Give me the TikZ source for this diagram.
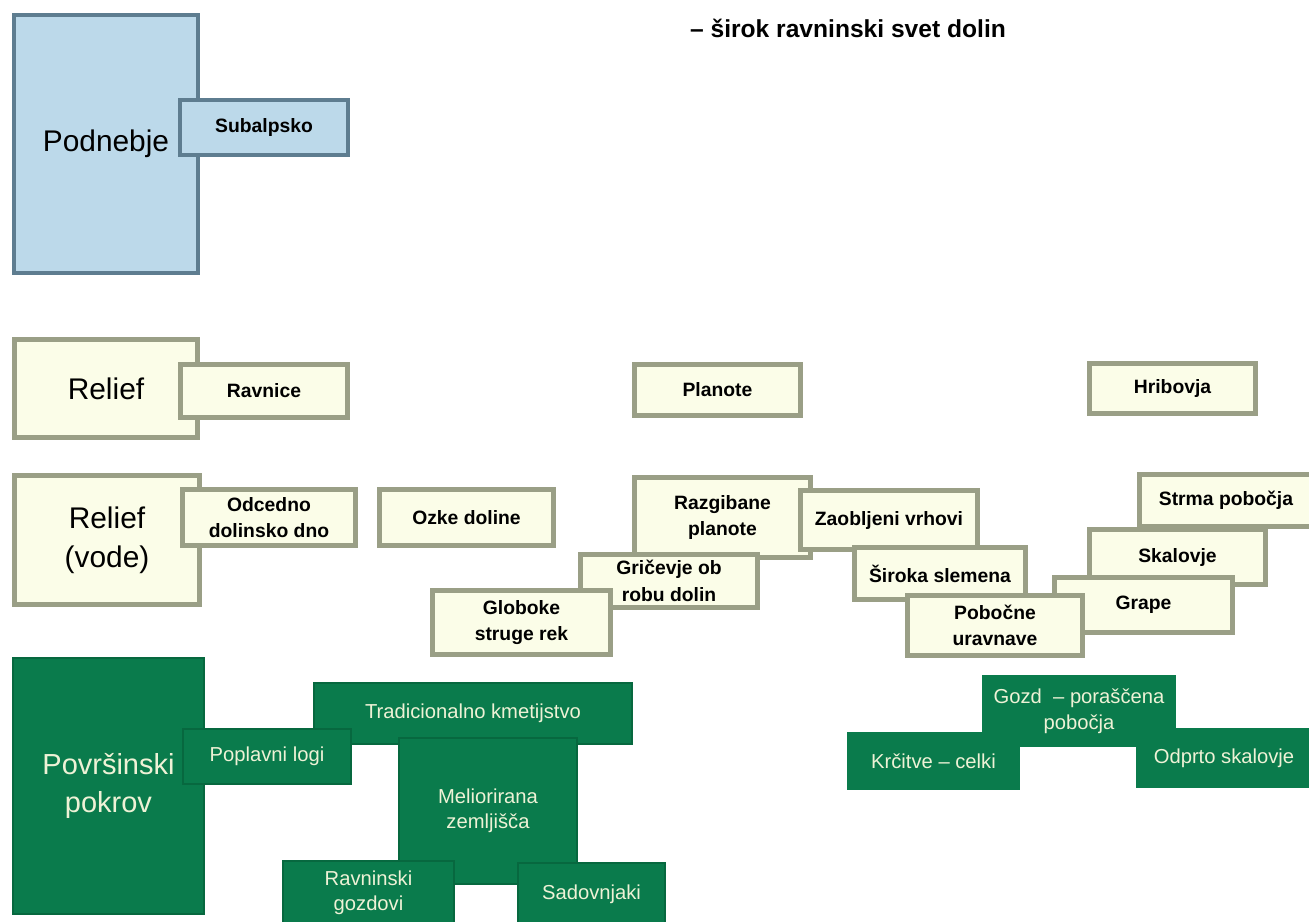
\documentclass[tikz,border=0pt]{standalone}
\usepackage{fontspec}
\setmainfont{Liberation Sans}

\definecolor{climfill}{HTML}{BCD9EA}
\definecolor{climline}{HTML}{5E7D90}
\definecolor{relfill}{HTML}{FBFDE8}
\definecolor{relline}{HTML}{9A9F86}
\definecolor{covfill}{HTML}{0A7B4C}
\definecolor{covline}{HTML}{07683F}
\definecolor{covtext}{HTML}{EEF2D6}

\begin{document}
\begin{tikzpicture}[
    x = 0.02cm, y = -0.02cm,
    every node/.style = {inner sep = 0pt, align = center},
    wh/.style 2 args = {minimum width = #1*0.02cm, minimum height = #2*0.02cm},
    climbox/.style = {draw = climline, fill = climfill, line width = 2.5pt},
    relbox/.style = {draw = relline, fill = relfill, line width = 2.8pt},
    covbox/.style = {draw = covline, fill = covfill, line width = 1pt,
      text = covtext},
    openbox/.style = {fill = covfill, text = covtext},
    smalltxt/.style = {font = \fontsize{11}{15}\selectfont\bfseries},
    bigtxt/.style = {font = \fontsize{17}{22}\selectfont},
    covtxt/.style = {font = \fontsize{11.5}{14.5}\selectfont},
    bigcov/.style = {font = \fontsize{16.5}{21.5}\selectfont}
  ]
  \useasboundingbox (0,0) rectangle (1309,921);

  \node [font = \fontsize{14}{17}\selectfont\bfseries] (title) at (848,28)
    {-- širok ravninski svet dolin};

  \node [climbox, wh = {184}{258}, bigtxt] (podnebje) at (106,144) {Podnebje};
  \node [climbox, wh = {168}{55}, smalltxt] (subalpsko) at (264,127.5) {Subalpsko};

  \node [relbox, wh = {183}{98}, bigtxt] (relief) at (106,388.5) {Relief};
  \node [relbox, wh = {167}{53}, smalltxt] (ravnice) at (264,391) {Ravnice};
  \node [relbox, wh = {166}{51}, smalltxt] (planote) at (717.5,390) {Planote};
  \node [relbox, wh = {166}{50}, smalltxt] (hribovja) at (1172.5,388.5) {Hribovja};

  \node [relbox, wh = {185}{129}, bigtxt] (reliefv) at (107,540) {Relief\\(vode)};
  \node [relbox, wh = {173}{56}, smalltxt] (odcedno) at (269,517.5)
    {Odcedno\\dolinsko dno};
  \node [relbox, wh = {174}{56}, smalltxt] (ozke) at (466.5,517.5) {Ozke doline};

  \node [relbox, wh = {173}{52}, smalltxt] (strma) at (1226,500.5) {Strma pobočja};
  \node [relbox, wh = {176}{55}, smalltxt] (skalovje) at (1177.5,557) {Skalovje};
  \node [relbox, wh = {178}{55}, smalltxt] (grape) at (1143.5,605) {Grape};
  \node [relbox, wh = {176}{80}, smalltxt] (razgibane) at (722.5,517.5)
    {Razgibane\\planote};
  \node [relbox, wh = {177}{59}, smalltxt] (zaobljeni) at (889,520)
    {Zaobljeni vrhovi};
  \node [relbox, wh = {171}{52}, smalltxt] (siroka) at (940,573.5) {Široka slemena};
  \node [relbox, wh = {175}{60}, smalltxt] (pobocne) at (995,625.5)
    {Pobočne\\uravnave};
  \node [relbox, wh = {177}{53}, smalltxt] (gricevje) at (669,581)
    {Gričevje ob\\robu dolin};
  \node [relbox, wh = {178}{64}, smalltxt] (globoke) at (521.5,622.5)
    {Globoke\\struge rek};

  \node [covbox, wh = {191}{256}, bigcov] (pokrov) at (108.5,786)
    {Površinski\\pokrov};
  \node [covbox, wh = {318}{61}, covtxt] (kmet) at (473,713.5)
    {Tradicionalno kmetijstvo};
  \node [covbox, wh = {168}{55}, covtxt] (logi) at (267,756.5) {Poplavni logi};
  \node [covbox, wh = {178}{146}, covtxt] (melior) at (488,811)
    {Meliorirana\\zemljišča};
  \node [covbox, wh = {171}{63}, covtxt] (rgozd) at (368.5,892.5)
    {Ravninski\\gozdovi};
  \node [covbox, wh = {147}{62}, covtxt] (sadov) at (591.5,894) {Sadovnjaki};

  \node [openbox, wh = {194}{72}, covtxt] (gozd) at (1079,711)
    {Gozd\ \ -- poraščena\\pobočja};
  \node [openbox, wh = {173}{58}, covtxt] (krcitve) at (933.5,761)
    {Krčitve -- celki};
  \node [openbox, wh = {176}{60}, covtxt] (skal) at (1224,758) {Odprto skalovje};
\end{tikzpicture}
\end{document}
